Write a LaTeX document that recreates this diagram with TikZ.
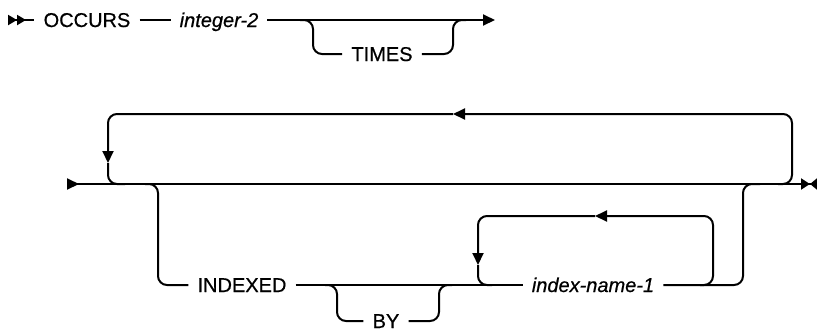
\documentclass[tikz,border=0pt]{standalone}
\usepackage{fontspec}
\setmainfont{Liberation Sans}[FakeBold=0.6]
\usetikzlibrary{arrows.meta}
\newcommand{\railfont}{\fontsize{20}{24}\selectfont}

\begin{document}
\begin{tikzpicture}[x=1pt, y=-1pt,
    word/.style={font=\railfont, inner xsep=9pt, inner ysep=0pt, text height=14pt, text depth=0pt},
    var/.style={word, font=\railfont\itshape},
    rail/.style={line width=2pt, rounded corners=9pt},
    railtip/.style={-{Triangle[length=12pt, width=11pt]}}
]
\useasboundingbox (0,0) rectangle (817,333);

% first line
\node[word] (occurs) at (87,20) {OCCURS};
\node[var] (int) at (219,20) {integer-2};
\node[word] (times) at (382,54) {TIMES};
\coordinate (s1) at (8,20);
\coordinate (e1) at (495,20);
\coordinate (tIn) at (300,20);
\coordinate (tDown) at (313,54);
\coordinate (tUp) at (453,54);
\coordinate (tOut) at (466,20);

\draw[rail, {Triangle[reversed, length=9pt, width=10pt] Triangle[reversed, length=9pt, width=10pt]}-] (s1) -- (occurs);
\draw[rail] (occurs) -- (int);
\draw[rail, railtip] (int) -- (e1);
\draw[rail] (tIn) -| (tDown) -- (times);
\draw[rail] (times) -- (tUp) |- (tOut);

% second line
\node[word] (indexed) at (242,285) {INDEXED};
\node[word] (by) at (386,321) {BY};
\node[var] (iname) at (593,285) {index-name-1};
\coordinate (s2) at (67,184);
\coordinate (e2) at (817,184);
\coordinate (rIn) at (778,184);
\coordinate (loopR) at (792,114);
\coordinate (loopA) at (453,114);
\coordinate (loopB) at (108,163);
\coordinate (loopOut) at (125,184);
\coordinate (xIn) at (145,184);
\coordinate (xDown) at (158,285);
\coordinate (bIn) at (325,285);
\coordinate (bDown) at (337,321);
\coordinate (bUp) at (439,321);
\coordinate (bOut) at (452,285);
\coordinate (iIn) at (700,285);
\coordinate (iloopR) at (713,216);
\coordinate (iloopA) at (595,216);
\coordinate (iloopB) at (478,265);
\coordinate (iOut) at (492,285);
\coordinate (jUp) at (743,285);
\coordinate (jOut) at (760,184);

\draw[rail, {Triangle[reversed, length=12pt, width=11pt]}-{Triangle[length=9pt, width=11pt] Triangle[reversed, length=7pt, width=11pt]}] (s2) -- (e2);
\draw[rail, railtip] (rIn) -| (loopR) -- (loopA);
\draw[rail, railtip] (loopA) -| (loopB);
\draw[rail] (loopB) |- (loopOut);
\draw[rail] (xIn) -| (xDown) -- (indexed);
\draw[rail] (indexed) -- (iname);
\draw[rail] (bIn) -| (bDown) -- (by);
\draw[rail] (by) -- (bUp) |- (bOut);
\draw[rail, railtip] (iIn) -| (iloopR) -- (iloopA);
\draw[rail, railtip] (iloopA) -| (iloopB);
\draw[rail] (iloopB) |- (iOut);
\draw[rail] (iname) -- (jUp) |- (jOut);
\end{tikzpicture}
\end{document}
